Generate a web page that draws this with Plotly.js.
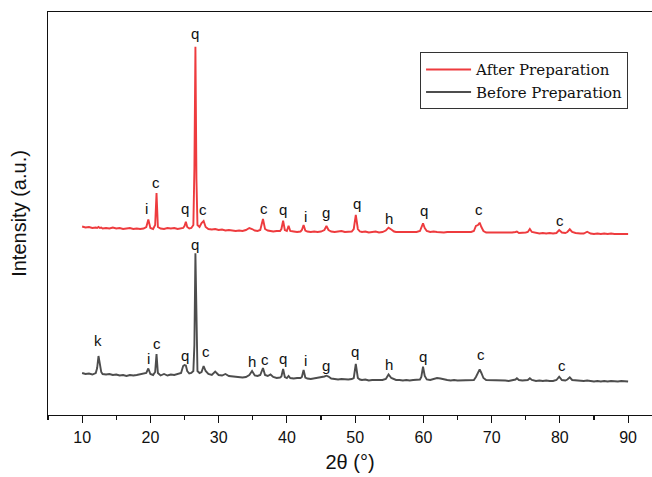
<!DOCTYPE html>
<html>
<head>
<meta charset="utf-8">
<script src="https://cdn.plot.ly/plotly-3.0.1.min.js"></script>
<style>html,body{margin:0;padding:0;background:#fff;}#chart{width:652px;height:477px;}</style>
</head>
<body>
<div id="chart"></div>
<script>
// 2-theta positions (degrees)
const twoTheta = [
 10, 10.5, 11, 11.5, 12, 12.2, 12.4, 12.6, 12.8, 13,
 13.5, 14, 14.5, 15, 15.5, 16, 16.5, 17, 17.5, 18,
 18.5, 19, 19.4, 19.7, 20, 20.4, 20.7, 20.9, 21.1, 21.5,
 22, 22.5, 23, 23.5, 24, 24.5, 24.8, 25.0, 25.2, 25.4,
 25.7, 26, 26.3, 26.45, 26.6, 26.75, 26.9, 27.2, 27.5, 27.8,
 28.1, 28.5, 29, 29.5, 30, 30.5, 31, 31.5, 32, 32.5,
 33, 33.5, 34, 34.5, 34.9, 35.3, 35.7, 36.1, 36.5, 36.8,
 37.2, 37.6, 38, 38.5, 39, 39.2, 39.45, 39.7, 40, 40.25,
 40.5, 41, 41.5, 42, 42.2, 42.45, 42.7, 43, 43.5, 44,
 44.5, 45, 45.5, 45.8, 46.1, 46.5, 47, 47.5, 48, 48.5,
 49, 49.5, 49.8, 50.1, 50.4, 50.7, 51, 51.5, 52, 52.5,
 53, 53.5, 54, 54.5, 54.9, 55.3, 55.7, 56, 56.5, 57,
 57.5, 58, 58.5, 59, 59.5, 59.7, 59.95, 60.2, 60.5, 61,
 61.5, 62, 62.5, 63, 63.5, 64, 64.5, 65, 65.5, 66,
 66.5, 67, 67.4, 67.7, 68, 68.25, 68.5, 68.8, 69.2, 69.6,
 70, 70.5, 71, 71.5, 72, 72.5, 73, 73.5, 73.7, 74,
 74.5, 75, 75.3, 75.6, 75.9, 76.5, 77, 77.5, 78, 78.5,
 79, 79.5, 79.9, 80.3, 80.8, 81.1, 81.45, 81.8, 82.3, 83,
 83.5, 84, 84.5, 85, 85.5, 86, 86.5, 87, 87.5, 88,
 88.5, 89, 89.5, 90
];

// Intensity (a.u.) before preparation
const beforeIntensity = [
 42, 41, 41.5, 40.5, 42, 47, 59, 52, 43, 41,
 40.5, 41, 40, 40.5, 39.5, 40, 39, 40, 39.5, 40,
 40.5, 41, 42, 46.5, 41, 40, 43, 61, 42, 39.5,
 41, 39.5, 40.5, 40, 41, 42, 49, 50, 49.5, 44,
 41.5, 42, 44, 70, 161.7, 70, 44, 42, 43, 49,
 44, 41, 40, 43.5, 40, 39.5, 41, 39, 38.5, 38,
 38, 37.5, 38, 40, 44, 39.5, 39, 40, 47, 40,
 39, 40.5, 38, 37, 37.5, 38.5, 46, 38, 37, 39,
 37, 36.5, 37, 37, 38, 45, 37.5, 36.5, 36, 36.5,
 37, 37.5, 38.5, 39.3, 38.5, 36.5, 36, 35.5, 36, 35.5,
 35.5, 36, 37, 51, 37, 35.5, 35, 35.5, 34.5, 35,
 35, 34.5, 35, 36, 40.5, 37, 35.5, 35, 35, 34.5,
 35, 34.5, 35, 35, 35.5, 38, 48.3, 39, 35.5, 35,
 36, 37, 36.5, 35.5, 35, 34.5, 35, 34.5, 34.5, 35,
 34.5, 35, 35, 38, 42, 45.7, 42, 37, 35, 35,
 34.5, 34.5, 35, 34.5, 34.5, 34, 34.5, 35.5, 36.7, 35,
 34.5, 34.5, 35, 36.7, 35, 34, 34.5, 34, 34.5, 34,
 34, 35, 38.3, 35, 34.5, 35.5, 37.7, 35, 34.5, 34,
 34, 34.5, 34, 33.5, 34, 33.5, 34, 33.5, 34, 33.5,
 33.5, 34, 33.5, 33.5
];

// Intensity (a.u.) after preparation
const afterIntensity = [
 42.5, 41.5, 42, 41, 41.5, 41, 42, 41, 41.5, 40.5,
 41, 40.5, 41.5, 40.5, 41, 40, 40.5, 41, 40, 40.5,
 40, 40.5, 42, 49.5, 41, 40, 44, 76, 42, 40.5,
 40, 41, 40.5, 41, 40, 40.5, 41, 43, 47.3, 42,
 40.5, 41, 44, 100, 222.3, 90, 44, 42, 46, 48,
 42, 40, 39.5, 40, 39, 39.5, 38.5, 39, 38.5, 38,
 38.5, 38, 39, 41, 40, 38.5, 38, 39, 50, 40,
 38.5, 38, 37.5, 38, 38, 40, 48.3, 39, 38, 43.3,
 38, 37.5, 37, 37.5, 39, 44, 38.5, 37.5, 37, 37.5,
 37, 37.5, 39, 43, 39, 37.5, 37, 37.5, 38, 37,
 37, 37.5, 40, 54, 40, 37.5, 37, 37.5, 36.5, 37,
 37.5, 36.5, 37, 38.5, 41.3, 39.5, 37.5, 37, 37, 36.5,
 37, 36.5, 37, 37, 38, 41, 45.7, 41, 38, 37,
 37.5, 37, 36.5, 36.5, 37, 37, 36.5, 36.5, 37, 36.5,
 36.5, 37, 38, 43, 44, 46.3, 42, 38, 36.5, 36.5,
 36.5, 36, 36.5, 36, 36.5, 36, 36.5, 37, 37.5, 36,
 36, 36.5, 37, 40, 37, 36, 35.5, 36, 35.5, 36,
 35.5, 36, 39, 36.5, 36, 37, 39.7, 37, 36, 35.5,
 35.5, 37.3, 35.5, 35, 35.5, 35, 35.5, 35, 35.5, 35,
 35, 35.5, 35, 35
];

// Phase labels
const afterLabels = ['q','c','i','q','c','c','q','i','g','q','h','q','c','c'];
const afterLabelX = [26.5, 20.84, 19.49, 25.04, 27.72, 36.71, 39.40, 42.69, 45.80, 50.32, 54.96, 60.09, 68.21, 80.04];
const afterLabelY = [235.7, 86.3, 60.7, 60.7, 59.7, 60.3, 59.7, 52.3, 56.3, 65.7, 50.7, 58.3, 59.7, 49];

const beforeLabels = ['q','k','i','c','q','c','h','c','q','i','g','q','h','q','c','c'];
const beforeLabelX = [26.5, 12.35, 19.68, 21.01, 25.04, 28.16, 34.82, 36.77, 39.46, 42.69, 45.80, 49.96, 54.96, 59.97, 68.4, 80.24];
const beforeLabelY = [171, 74.3, 56.7, 71.7, 60, 63.3, 53.3, 55.7, 56.7, 55, 50, 63.3, 51, 59, 61, 49.3];

const seriesNames = ['After Preparation', 'Before Preparation'];
const xTickVals = [10, 20, 30, 40, 50, 60, 70, 80, 90];
const xMinorVals = [5, 15, 25, 35, 45, 55, 65, 75, 85];

const OFFSET = 146; // vertical stacking offset for the "after" pattern
const RED = '#EE3B3E';
const GRAY = '#4D4D4D';
const SANS = 'Liberation Sans, Arial, sans-serif';

const traces = [
  {
    x: twoTheta, y: afterIntensity.map(v => v + OFFSET),
    type: 'scatter', mode: 'lines', name: seriesNames[0],
    line: {color: RED, width: 1.9}
  },
  {
    x: twoTheta, y: beforeIntensity,
    type: 'scatter', mode: 'lines', name: seriesNames[1],
    line: {color: GRAY, width: 1.9}
  }
];

const labelFont = {family: SANS, size: 15, color: '#111'};
const annotations = [];
afterLabels.forEach((t, i) => annotations.push({
  x: afterLabelX[i], y: afterLabelY[i] + OFFSET, xref: 'x', yref: 'y',
  text: t, showarrow: false, font: labelFont, xanchor: 'center', yanchor: 'middle'
}));
beforeLabels.forEach((t, i) => annotations.push({
  x: beforeLabelX[i], y: beforeLabelY[i], xref: 'x', yref: 'y',
  text: t, showarrow: false, font: labelFont, xanchor: 'center', yanchor: 'middle'
}));

const layout = {
  width: 652, height: 477,
  margin: {l: 48, r: 0, t: 12, b: 62},
  paper_bgcolor: '#fff', plot_bgcolor: '#fff',
  showlegend: true,
  legend: {
    x: 0.616, y: 0.9, xanchor: 'left', yanchor: 'top',
    bordercolor: '#333', borderwidth: 1, bgcolor: '#fff',
    font: {family: 'DejaVu Serif, Liberation Serif, serif', size: 15, color: '#111'},
    itemwidth: 45, tracegroupgap: 0
  },
  xaxis: {
    range: [5, 93.5], showgrid: false, zeroline: false,
    showline: true, linecolor: '#111', linewidth: 1.3, mirror: true,
    tickmode: 'array', tickvals: xTickVals,
    ticks: 'outside', ticklen: 7, tickwidth: 1.2, tickcolor: '#111',
    minor: {tickmode: 'array', tickvals: xMinorVals, ticks: 'outside', ticklen: 4, tickwidth: 1.2, tickcolor: '#111'},
    tickfont: {family: SANS, size: 16, color: '#111'},
    title: {text: '2θ (°)', font: {family: SANS, size: 20, color: '#111'}, standoff: 10}
  },
  yaxis: {
    range: [0, 403], showgrid: false, zeroline: false,
    showline: true, linecolor: '#111', linewidth: 1.3, mirror: false,
    ticks: '', showticklabels: false,
    title: {text: 'Intensity (a.u.)', font: {family: SANS, size: 20, color: '#111'}, standoff: 14}
  },
  annotations: annotations
};

Plotly.newPlot('chart', traces, layout, {displayModeBar: false, staticPlot: true});
</script>
</body>
</html>
